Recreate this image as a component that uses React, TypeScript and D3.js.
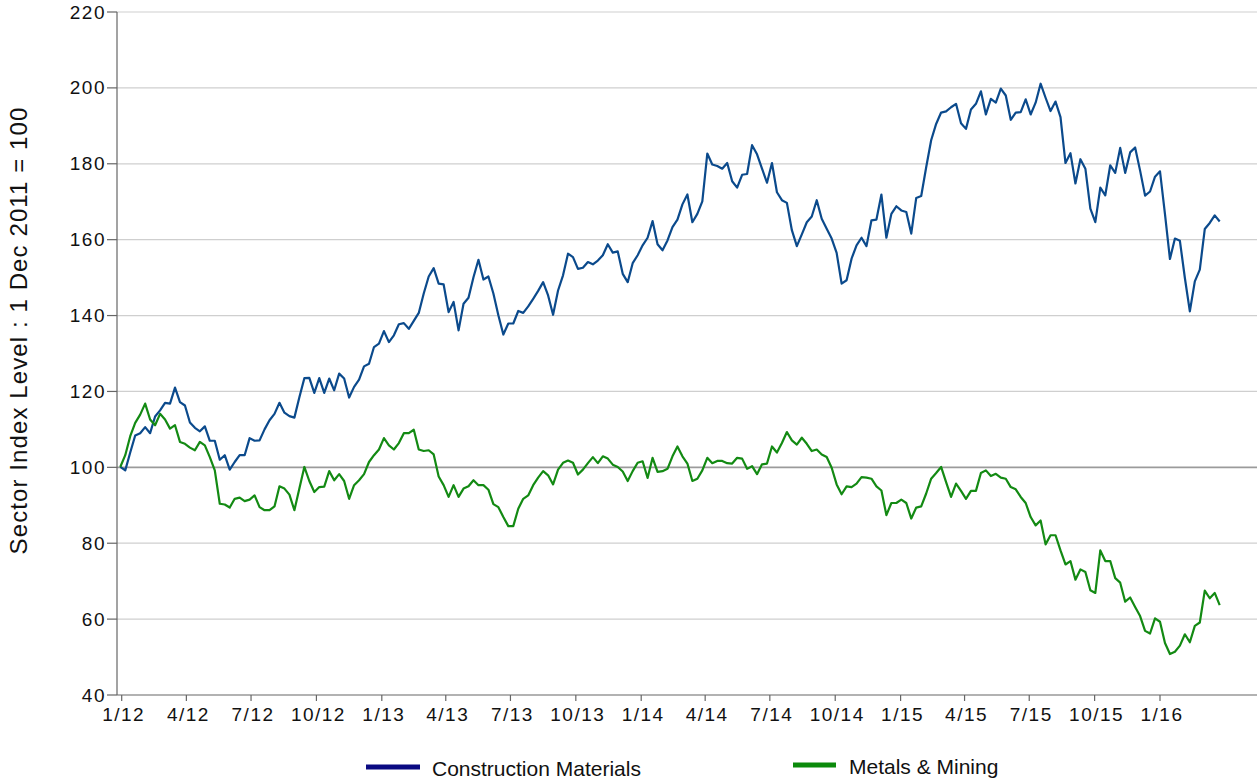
import * as d3 from 'd3';

// weekly index levels, first observation 30 Dec 2011
const startDate = '2011-12-30';

const constructionMaterials = [
  100.1, 99.2, 103.9, 108.4, 109.0, 110.6, 109.0, 113.4, 115.0, 117.0,
  116.8, 121.0, 117.2, 116.3, 111.8, 110.4, 109.5, 110.8, 107.0, 107.0,
  102.0, 103.2, 99.4, 101.4, 103.2, 103.2, 107.7, 107.0, 107.1, 110.0,
  112.4, 114.1, 117.0, 114.4, 113.5, 113.1, 118.5, 123.5, 123.6, 119.6,
  123.5, 119.6, 123.4, 120.3, 124.7, 123.4, 118.4, 121.2, 123.1, 126.6,
  127.3, 131.7, 132.6, 135.9, 133.0, 134.8, 137.7, 138.0, 136.5, 138.6,
  140.7, 145.8, 150.3, 152.5, 148.4, 148.2, 140.9, 143.6, 136.1, 143.1,
  144.7, 150.1, 154.7, 149.5, 150.3, 145.8, 140.1, 135.0, 137.9, 137.9,
  141.2, 140.7, 142.4, 144.4, 146.5, 148.8, 145.3, 140.2, 146.6, 150.6,
  156.3, 155.4, 152.3, 152.6, 154.1, 153.5, 154.5, 155.9, 158.8, 156.6,
  156.9, 151.0, 148.8, 153.8, 155.9, 158.5, 160.5, 164.9, 158.8, 157.2,
  159.8, 163.3, 165.3, 169.3, 171.9, 164.6, 166.8, 170.1, 182.7, 179.8,
  179.4, 178.7, 180.2, 175.4, 173.7, 177.1, 177.3, 184.9, 182.5, 178.7,
  175.0, 180.2, 172.5, 170.4, 169.7, 162.5, 158.3, 161.4, 164.6, 166.1,
  170.4, 165.5, 162.9, 160.3, 156.5, 148.4, 149.3, 155.0, 158.5, 160.5,
  158.3, 165.1, 165.3, 171.9, 160.5, 166.8, 168.8, 167.7, 167.3, 161.6,
  171.0, 171.5, 179.1, 186.2, 190.5, 193.5, 193.8, 194.9, 195.8, 190.7,
  189.2, 194.3, 195.8, 199.1, 193.0, 197.1, 196.1, 199.8, 198.0, 191.6,
  193.5, 193.6, 197.0, 193.0, 196.1, 201.1, 197.4, 193.9, 196.4, 192.3,
  180.2, 182.8, 174.8, 181.2, 178.7, 168.2, 164.6, 173.7, 171.7, 179.6,
  177.6, 184.2, 177.6, 183.0, 184.3, 178.2, 171.6, 172.7, 176.6, 178.0,
  166.7, 154.9, 160.3, 159.7, 149.9, 141.1, 149.0, 152.1, 162.8, 164.4,
  166.4, 164.8,
];

const metalsMining = [
  100.1, 103.2, 108.2, 111.7, 113.9, 116.8, 112.6, 111.1, 114.1, 112.6,
  110.2, 111.1, 106.7, 106.2, 105.2, 104.5, 106.7, 105.8, 102.7, 99.2,
  90.4, 90.2, 89.4, 91.7, 92.0, 91.1, 91.5, 92.6, 89.5, 88.7,
  88.7, 89.7, 95.0, 94.4, 92.8, 88.7, 94.4, 100.1, 96.4, 93.5,
  94.8, 94.9, 99.0, 96.6, 98.2, 96.4, 91.7, 95.3, 96.6, 98.2,
  101.4, 103.2, 104.7, 107.7, 105.8, 104.7, 106.4, 109.0, 109.0, 109.9,
  104.7, 104.3, 104.5, 103.4, 97.6, 95.3, 92.2, 95.3, 92.2, 94.4,
  95.0, 96.6, 95.3, 95.3, 94.1, 90.3, 89.5, 86.9, 84.5, 84.5,
  89.1, 91.7, 92.6, 95.3, 97.3, 99.0, 97.9, 95.5, 99.4, 101.2,
  101.8, 101.2, 98.1, 99.4, 101.1, 102.7, 101.1, 102.9, 102.3, 100.7,
  100.1, 98.9, 96.4, 99.0, 101.2, 101.6, 97.2, 102.5, 98.8, 99.0,
  99.6, 102.9, 105.5, 102.9, 101.0, 96.4, 97.0, 99.2, 102.5, 101.1,
  101.7, 101.7, 101.1, 101.0, 102.5, 102.3, 99.6, 100.3, 98.2, 100.8,
  101.0, 105.5, 103.9, 106.4, 109.3, 107.1, 106.0, 107.8, 106.2, 104.3,
  104.7, 103.4, 102.7, 99.9, 95.5, 92.9, 95.0, 94.8, 95.7, 97.4,
  97.3, 97.0, 95.0, 93.9, 87.4, 90.6, 90.6, 91.5, 90.6, 86.5,
  89.4, 89.7, 93.1, 97.0, 98.5, 100.1, 96.1, 92.2, 95.7, 93.8,
  91.7, 93.8, 93.8, 98.5, 99.2, 97.7, 98.3, 97.3, 97.0, 94.8,
  94.2, 92.2, 90.6, 86.9, 84.7, 86.0, 79.7, 82.1, 82.1, 78.1,
  74.4, 75.3, 70.4, 73.1, 72.4, 67.6, 66.9, 78.1, 75.3, 75.3,
  70.8, 69.6, 64.6, 65.7, 63.2, 60.8, 56.9, 56.2, 60.2, 59.3,
  53.7, 50.8, 51.4, 53.0, 56.0, 53.9, 58.2, 59.1, 67.5, 65.5,
  66.9, 63.7,
];

const yTicks = [40, 60, 80, 100, 120, 140, 160, 180, 200, 220];
const seriesNames = ['Construction Materials', 'Metals & Mining'];
const lineColors = ['#0b4a8c', '#138a13'];
const legendColors = ['#0a0a82', '#0b8a0b'];
const yTitle = 'Sector Index Level : 1 Dec 2011 = 100';

const W = 1257;
const H = 779;
const font = '"Liberation Sans", Arial, Helvetica, sans-serif';

export default function App() {
  const t0 = new Date(startDate + 'T00:00:00Z');
  const dates = constructionMaterials.map((_, i) => d3.utcDay.offset(t0, 7 * i));

  const plotLeft = 117;
  const plotRight = W;
  const x = d3
    .scaleUtc()
    .domain([new Date(Date.UTC(2012, 0, 1)), new Date(Date.UTC(2016, 0, 1))])
    .range([121.7, 1160]);
  const y = d3.scaleLinear().domain([40, 220]).range([695, 12]);

  const xTicks = d3.utcMonth
    .every(3)!
    .range(new Date(Date.UTC(2012, 0, 1)), new Date(Date.UTC(2016, 0, 2)));
  const fmt = d3.utcFormat('%-m/%y');

  const line = d3
    .line<number>()
    .x((_, i) => x(dates[i]))
    .y((d) => y(d));

  const series = [constructionMaterials, metalsMining];

  return (
    <svg
      width={W}
      height={H}
      style={{ position: 'absolute', left: 0, top: 0, background: '#fff' }}
      fontFamily={font}
    >
      {/* gridlines */}
      {yTicks.slice(1).map((t) => (
        <line
          key={'g' + t}
          x1={plotLeft}
          x2={plotRight}
          y1={y(t)}
          y2={y(t)}
          stroke={t === 100 ? '#9b9b9b' : '#cfcfcf'}
          strokeWidth={t === 100 ? 1.6 : 1.2}
        />
      ))}

      {/* y axis */}
      <line x1={plotLeft} x2={plotLeft} y1={y(220)} y2={y(40)} stroke="#666" strokeWidth={1.2} />
      {yTicks.map((t) => (
        <g key={'y' + t}>
          <line x1={plotLeft - 10} x2={plotLeft} y1={y(t)} y2={y(t)} stroke="#666" strokeWidth={1.2} />
          <text
            x={plotLeft - 11}
            y={y(t)}
            textAnchor="end"
            dominantBaseline="central"
            fontSize={19}
            letterSpacing={1.5}
            fill="#111"
          >
            {t}
          </text>
        </g>
      ))}

      {/* x axis */}
      <line x1={plotLeft} x2={plotRight} y1={y(40)} y2={y(40)} stroke="#666" strokeWidth={1.2} />
      {xTicks.map((d) => (
        <g key={'x' + d.getTime()}>
          <line x1={x(d)} x2={x(d)} y1={y(40)} y2={y(40) + 6} stroke="#666" strokeWidth={1.2} />
          <text
            x={x(d) + 2}
            y={y(40) + 19}
            textAnchor="middle"
            dominantBaseline="central"
            fontSize={19}
            letterSpacing={1.5}
            fill="#111"
          >
            {fmt(d)}
          </text>
        </g>
      ))}

      {/* y title */}
      <text
        transform={`translate(27,${(y(220) + y(40)) / 2 - 23}) rotate(-90)`}
        textAnchor="middle"
        fontSize={24}
        letterSpacing={1.1}
        fill="#111"
      >
        {yTitle}
      </text>

      {/* lines */}
      {series.map((s, k) => (
        <path
          key={'l' + k}
          d={line(s) || ''}
          fill="none"
          stroke={lineColors[k]}
          strokeWidth={2.2}
          strokeLinejoin="round"
        />
      ))}

      {/* legend */}
      {seriesNames.map((name, k) => {
        const lx = k === 0 ? 366 : 793;
        const ly = k === 0 ? 767 : 765;
        return (
          <g key={'lg' + k}>
            <line x1={lx} x2={lx + (k === 0 ? 54 : 43)} y1={ly} y2={ly} stroke={legendColors[k]} strokeWidth={5} />
            <text
              x={lx + (k === 0 ? 66 : 56)}
              y={ly + 1}
              dominantBaseline="central"
              fontSize={21}
              fill="#111"
            >
              {name}
            </text>
          </g>
        );
      })}
    </svg>
  );
}
